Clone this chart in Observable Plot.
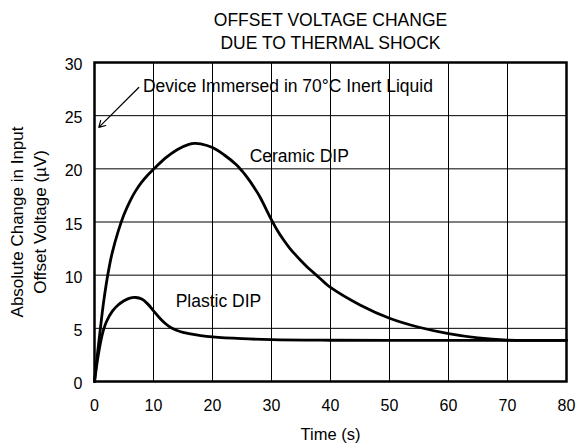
<!DOCTYPE html>
<html>
<head>
<meta charset="utf-8">
<script src="https://cdn.jsdelivr.net/npm/d3@7"></script>
<script src="https://cdn.jsdelivr.net/npm/@observablehq/plot@0.6"></script>
<style>
  html, body { margin: 0; padding: 0; background: #fff; }
  svg { display: block; }
</style>
</head>
<body>
<div id="chart"></div>
<script>
// ---- Data ----
const titleLines = ["OFFSET VOLTAGE CHANGE", "DUE TO THERMAL SHOCK"];
const yLabelLines = ["Absolute Change in Input", "Offset Voltage (µV)"];
const xLabel = "Time (s)";

const xTicks = [0, 10, 20, 30, 40, 50, 60, 70, 80];
const yTicks = [0, 5, 10, 15, 20, 25, 30];
const xGrid = [10, 20, 30, 40, 50, 60, 70];
const yGrid = [5, 10, 15, 20, 25];

const ceramicTime  = [0, 0.5, 1, 1.5, 2, 2.5, 3, 4, 5, 6, 7, 8, 9, 10, 12, 14, 16, 17, 18, 20, 22, 24, 25, 26, 27, 28, 29, 30, 31, 32, 33, 34, 35, 36, 37, 38, 39, 40, 45, 50, 55, 60, 65, 70, 75, 80];
const ceramicValue = [0, 2.6, 5.0, 7.3, 9.2, 10.8, 12.1, 14.1, 15.7, 16.95, 17.95, 18.75, 19.4, 19.95, 21.0, 21.8, 22.3, 22.4, 22.35, 22.0, 21.3, 20.4, 19.8, 19.1, 18.3, 17.4, 16.3, 15.2, 14.2, 13.35, 12.6, 11.95, 11.35, 10.8, 10.3, 9.8, 9.3, 8.85, 7.2, 5.95, 5.1, 4.5, 4.1, 3.9, 3.87, 3.87];

const plasticTime  = [0, 0.5, 1, 1.5, 2, 3, 4, 5, 6, 7, 8, 9, 10, 11, 12, 13, 14, 15, 16, 18, 20, 25, 30, 40, 50, 60, 70, 80];
const plasticValue = [0, 2.0, 3.6, 4.8, 5.6, 6.6, 7.2, 7.6, 7.85, 7.9, 7.75, 7.3, 6.65, 6.0, 5.45, 5.05, 4.8, 4.62, 4.5, 4.32, 4.2, 4.03, 3.93, 3.88, 3.87, 3.87, 3.87, 3.87];

const seriesLabels = ["Ceramic DIP", "Plastic DIP"];
const seriesLabelTime = [26.3, 13.75];
const seriesLabelValue = [21.2, 7.58];

const noteText = "Device Immersed in 70°C Inert Liquid";
const noteTime = 8.2, noteValue = 27.77;
const arrowFrom = [7.5, 27.65];
const arrowTo = [0.73, 23.9];

// ---- Build tables ----
const ceramic = ceramicTime.map((t, i) => ({t, v: ceramicValue[i]}));
const plastic = plasticTime.map((t, i) => ({t, v: plasticValue[i]}));
const labels = seriesLabels.map((s, i) => ({s, t: seriesLabelTime[i], v: seriesLabelValue[i]}));

const font = "'Liberation Sans', Arial, Helvetica, sans-serif";

const chart = Plot.plot({
  width: 576,
  height: 445,
  marginLeft: 94,
  marginRight: 10,
  marginTop: 62,
  marginBottom: 64,
  style: {fontFamily: font, fontSize: "16px", color: "#000", background: "#fff"},
  x: {domain: [0, 80], label: null},
  y: {domain: [0, 30], label: null},
  marks: [
    Plot.ruleX(xGrid, {stroke: "#000", strokeWidth: 1}),
    Plot.ruleY(yGrid, {stroke: "#000", strokeWidth: 1}),
    Plot.frame({stroke: "#000", strokeWidth: 2.5}),
    Plot.axisX({ticks: xTicks, tickSize: 0, tickPadding: 18, fontSize: 16, label: null}),
    Plot.axisY({ticks: yTicks, tickSize: 0, tickPadding: 12, fontSize: 16, label: null, dy: 2.5}),
    Plot.line(plastic, {x: "t", y: "v", curve: "catmull-rom", stroke: "#000", strokeWidth: 2.8}),
    Plot.line(ceramic, {x: "t", y: "v", curve: "catmull-rom", stroke: "#000", strokeWidth: 2.8}),
    Plot.text(labels, {x: "t", y: "v", text: "s", textAnchor: "start", fontSize: 17.5, fill: "#000"}),
    Plot.text([noteText], {x: noteTime, y: noteValue, textAnchor: "start", fontSize: 17.5, fill: "#000"}),
    Plot.arrow([0], {x1: arrowFrom[0], y1: arrowFrom[1], x2: arrowTo[0], y2: arrowTo[1], stroke: "#000", strokeWidth: 1.2, headLength: 9, bend: 0}),
    Plot.text([titleLines[0]], {frameAnchor: "top", lineAnchor: "middle", textAnchor: "middle", dy: -42.6, fontSize: 17.5, fill: "#000"}),
    Plot.text([titleLines[1]], {frameAnchor: "top", lineAnchor: "middle", textAnchor: "middle", dy: -19.3, fontSize: 17.5, fill: "#000"}),
    Plot.text([yLabelLines[0]], {frameAnchor: "left", lineAnchor: "middle", textAnchor: "middle", rotate: -90, dx: -76.6, fontSize: 17, fill: "#000"}),
    Plot.text([yLabelLines[1]], {frameAnchor: "left", lineAnchor: "middle", textAnchor: "middle", rotate: -90, dx: -53.9, fontSize: 17, fill: "#000"}),
    Plot.text([xLabel], {frameAnchor: "bottom", lineAnchor: "middle", textAnchor: "middle", dy: 53.6, fontSize: 16.5, fill: "#000"})
  ]
});
document.getElementById("chart").appendChild(chart);
</script>
</body>
</html>
